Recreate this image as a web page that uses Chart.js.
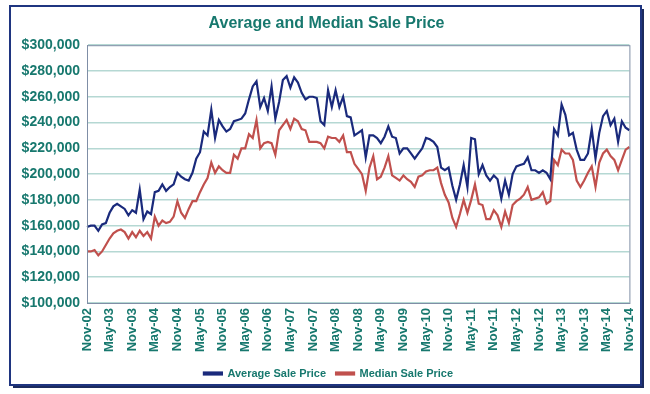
<!DOCTYPE html>
<html>
<head>
<meta charset="utf-8">
<script src="https://cdn.jsdelivr.net/npm/chart.js@4.4.1/dist/chart.umd.min.js"></script>
<style>
  html, body { margin: 0; padding: 0; background: #fff; }
  #wrap { width: 650px; height: 394px; }
</style>
</head>
<body>
<div id="wrap"><canvas id="price-chart" width="650" height="394"></canvas></div>
<script>
// monthly data, Nov-02 .. Nov-14 (values in $)
const monthNames = ['Jan', 'Feb', 'Mar', 'Apr', 'May', 'Jun', 'Jul', 'Aug', 'Sep', 'Oct', 'Nov', 'Dec'];

const averagePrice = [
  159, 160, 160, 156, 161, 162, 170, 175, 177, 175, 173, 168,
  172, 170, 188, 165, 171, 169, 186, 187, 192, 187, 190, 192,
  201, 198, 196, 195, 201, 212, 217, 233, 230, 250, 228, 242,
  237, 233, 235, 241, 242, 243, 247, 258, 268, 272, 252, 259,
  249, 268, 243, 256, 273, 276, 267, 275, 271, 263, 258, 260,
  260, 259, 241, 238, 265, 252, 265, 252, 260, 245, 244, 230,
  232, 234, 213, 230, 230, 228, 224, 229, 237, 229, 228, 216,
  220, 220, 216, 212, 216, 220, 228, 227, 225, 221, 205, 203,
  205, 191, 180, 192, 207, 190, 228, 227, 200, 207, 199, 195,
  199, 196, 181, 195, 184, 200, 206, 207, 208, 213, 203, 203,
  201, 203, 201, 196, 235, 230, 254, 246, 230, 232, 219, 211,
  211, 216, 235, 212, 232, 245, 249, 238, 243, 225, 241, 236,
  234
].map(v => v * 1000);

const medianPrice = [
  140, 140, 141, 137, 140, 145, 150, 154, 156, 157, 155, 150,
  155, 151, 156, 152, 155, 150, 167, 160, 164, 162, 163, 167,
  179, 170, 166, 173, 179, 179, 186, 192, 197, 209, 201, 206,
  203, 201, 201, 215, 212, 220, 220, 231, 228, 242, 220, 224,
  225, 224, 215, 234, 238, 242, 235, 243, 241, 235, 234, 225,
  225, 225, 224, 220, 229, 228, 228, 225, 230, 217, 217, 208,
  204, 200, 187, 205, 214, 196, 198, 205, 214, 199, 197, 195,
  199, 196, 194, 190, 198, 199, 202, 203, 203, 205, 193, 184,
  178, 166, 159, 169, 180, 170, 180, 192, 177, 176, 165, 165,
  172, 168, 159, 171, 162, 176, 179, 181, 184, 190, 180, 181,
  182, 186, 177, 179, 211, 207, 219, 216, 216, 211, 195, 190,
  195, 201, 206, 190, 209, 216, 219, 214, 211, 203, 211, 219,
  221
].map(v => v * 1000);

// category labels: one per month starting Nov-02
const categories = [];
for (let i = 0; i < averagePrice.length; i++) {
  const m = (10 + i) % 12;
  const y = 2002 + Math.floor((10 + i) / 12);
  categories.push(monthNames[m] + '-' + String(y % 100).padStart(2, '0'));
}

const teal = '#17786e';
const fontFamily = '"Liberation Sans", Arial, sans-serif';

// frame round the whole chart + border round the plot area
const framePlugin = {
  id: 'frame',
  afterLayout(chart) {
    // title and legend are centred on the frame, not on the padded area
    const t = chart.titleBlock;
    if (t) { t.left += 10; t.right += 10; }
    const l = chart.legend;
    if (l) { l.left += 12; l.right += 12; }
  },
  beforeDraw(chart) {
    const ctx = chart.ctx;
    ctx.save();
    ctx.fillStyle = '#ffffff';
    ctx.fillRect(0, 0, chart.width, chart.height);
    ctx.fillStyle = '#1b2b5e';
    ctx.fillRect(13, 9, 631, 379);
    ctx.fillStyle = '#ffffff';
    ctx.fillRect(10, 6, 631, 379);
    ctx.strokeStyle = '#1f3580';
    ctx.lineWidth = 2;
    ctx.strokeRect(10, 6, 631, 379);
    ctx.restore();
  },
  afterDatasetsDraw(chart) {
    const a = chart.chartArea;
    const ctx = chart.ctx;
    ctx.save();
    ctx.strokeStyle = '#7f8ea6';
    ctx.lineWidth = 1;
    ctx.strokeRect(a.left + 0.5, a.top + 0.5, a.right - a.left, a.bottom - a.top);
    ctx.restore();
  }
};

const ctx = document.getElementById('price-chart').getContext('2d');

new Chart(ctx, {
  type: 'line',
  data: {
    labels: categories,
    datasets: [
      {
        label: 'Average Sale Price',
        data: averagePrice,
        borderColor: '#1a2a7c',
        backgroundColor: '#1a2a7c',
        borderWidth: 2.2,
        pointRadius: 0,
        tension: 0,
      },
      {
        label: 'Median Sale Price',
        data: medianPrice,
        borderColor: '#c0504d',
        backgroundColor: '#c0504d',
        borderWidth: 2.2,
        pointRadius: 0,
        tension: 0,
      },
    ],
  },
  options: {
    responsive: false,
    animation: false,
    layout: {
      padding: { left: 0, right: 17, top: 3, bottom: 5 },
    },
    plugins: {
      title: {
        display: true,
        text: 'Average and Median Sale Price',
        color: teal,
        font: { family: fontFamily, size: 16, weight: 'bold' },
        padding: { top: 11, bottom: 12 },
      },
      legend: {
        position: 'bottom',
        labels: {
          color: teal,
          font: { family: fontFamily, size: 11, weight: 'bold' },
          boxWidth: 18,
          boxHeight: 2,
          padding: 10,
        },
      },
      tooltip: { enabled: false },
    },
    scales: {
      x: {
        offset: false,
        grid: { display: false, drawTicks: false },
        border: { display: true, color: '#7f8ea6' },
        ticks: {
          autoSkip: false,
          minRotation: 90,
          maxRotation: 90,
          padding: 5,
          color: teal,
          font: { family: fontFamily, size: 13, weight: 'bold' },
          callback: (val, idx) => (idx % 6 === 0 ? categories[idx] : null),
        },
        afterFit: (scale) => { scale.height = 55; },
      },
      y: {
        min: 100000,
        max: 300000,
        grid: { color: '#b5d8d3', lineWidth: 1.5, drawTicks: false },
        border: { display: true, color: '#7f8ea6' },
        ticks: {
          stepSize: 20000,
          padding: 7,
          color: teal,
          font: { family: fontFamily, size: 14, weight: 'bold' },
          callback: (v) => '$' + v.toLocaleString('en-US'),
        },
        afterFit: (scale) => { scale.width = 87; },
      },
    },
  },
  plugins: [framePlugin],
});
</script>
</body>
</html>
